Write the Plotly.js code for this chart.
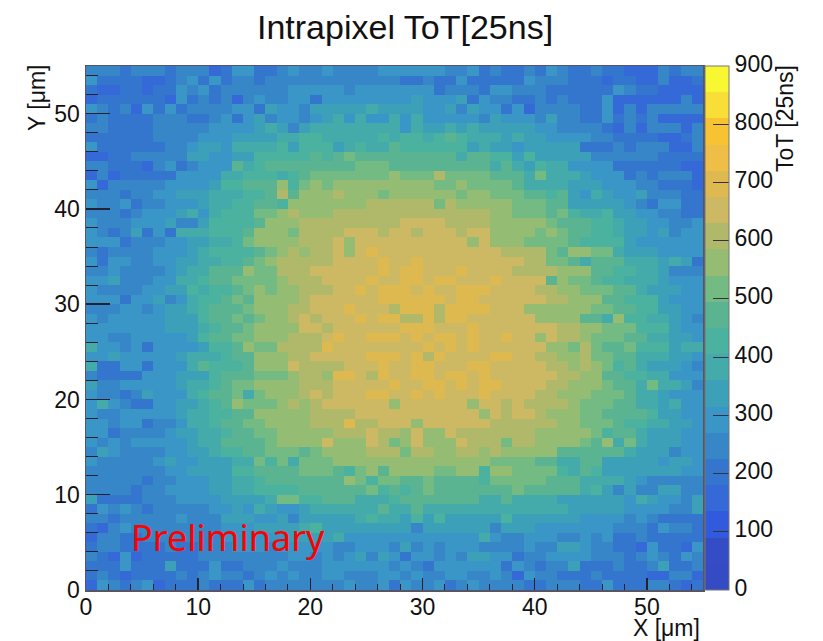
<!DOCTYPE html>
<html><head><meta charset="utf-8">
<script src="https://cdn.plot.ly/plotly-3.0.1.min.js"></script>
<style>html,body{margin:0;padding:0;background:#fff}#c{width:823px;height:641px}</style>
</head><body><div id="c"></div>
<script>
const chartTitle = 'Intrapixel ToT[25ns]';
const xTitle = 'X [μm]', yTitle = 'Y [μm]', zTitle = 'ToT [25ns]', note = 'Preliminary';
const bandColors = ['#344bc3','#344cc6','#325adc','#3469d7','#3476cd','#3787c8','#3a96c6','#3ca0b9','#44aaaa','#4bb2a0','#5ab491','#73bb82','#94bc73','#afb969','#cdb964','#deb950','#eebe46','#f7c332','#f8de37','#f8f832'];
// ToT per 1 µm bin, top row (Y 54–55) first, left to right X 0–55
const tot = [
[250,250,250,200,250,250,250,200,250,250,250,160,200,290,290,200,200,250,290,250,250,290,250,250,250,250,290,290,290,290,290,290,250,250,290,200,250,200,200,250,200,290,250,200,200,250,200,200,160,160,160,250,200,250,250],
[290,200,200,200,200,160,160,200,250,290,200,290,200,250,250,200,250,250,250,250,250,250,250,250,250,250,250,250,200,200,250,200,200,290,200,200,200,200,200,290,250,250,250,200,200,200,160,200,200,160,160,250,160,160,200],
[200,160,160,200,200,160,200,200,290,250,290,200,250,250,250,250,250,250,290,290,290,290,290,250,290,290,290,290,290,290,290,200,250,250,250,200,290,290,250,250,250,200,200,200,200,200,200,290,250,200,200,160,160,160,160],
[160,200,200,200,200,200,200,160,290,200,250,200,250,160,250,290,250,250,290,290,200,290,290,290,290,290,290,290,290,340,290,290,290,340,200,290,250,250,200,200,250,200,250,200,200,200,290,160,160,160,160,160,160,250,160],
[290,250,200,250,160,290,200,290,200,250,250,250,250,290,290,200,340,290,290,250,340,340,340,340,340,380,340,340,340,340,290,290,340,250,340,290,290,200,290,160,250,250,250,250,200,200,290,160,250,160,250,250,250,250,250],
[200,250,200,200,200,200,250,250,250,200,200,250,290,200,290,340,250,290,290,250,290,340,380,290,380,290,290,380,290,380,290,290,290,290,290,250,340,290,290,290,250,340,250,250,200,200,290,200,250,200,250,160,160,160,160],
[250,250,200,200,200,200,250,250,250,250,250,290,290,290,290,340,380,340,250,340,380,380,380,380,380,380,380,380,290,380,340,340,380,340,380,340,340,340,340,340,290,290,250,250,250,250,200,160,250,160,250,250,250,160,250],
[200,200,200,200,200,200,250,250,250,250,290,290,290,340,340,340,340,380,380,430,430,380,380,380,380,380,430,380,430,430,380,430,470,430,380,380,380,340,380,340,340,290,290,290,290,250,250,200,200,200,200,160,160,200,250],
[290,200,200,200,200,200,200,250,250,290,340,340,290,380,380,380,380,430,340,430,430,430,340,380,430,380,380,470,430,430,430,430,430,430,340,380,340,340,290,340,340,340,340,340,200,200,200,250,200,250,250,250,160,160,250],
[160,160,200,200,250,250,250,250,250,340,340,290,290,340,340,430,430,430,430,430,470,430,470,520,470,470,470,470,470,470,470,470,470,380,470,470,430,430,340,430,340,340,340,340,340,250,250,250,250,250,250,200,200,200,200],
[250,250,200,200,200,160,250,290,200,250,290,290,290,470,380,430,470,470,470,470,470,470,470,470,520,520,520,470,470,470,470,470,470,470,470,470,380,470,380,340,430,380,380,290,290,290,290,200,200,200,200,200,200,160,160],
[160,250,160,200,200,200,200,200,290,290,290,290,380,380,430,430,430,380,430,470,520,520,520,520,520,520,520,560,520,520,520,610,520,520,520,520,470,470,470,380,520,380,380,380,340,290,290,290,200,250,200,250,250,250,160],
[290,160,250,250,250,250,250,290,290,290,290,340,430,430,470,470,470,560,430,520,560,520,560,560,560,560,560,560,560,560,560,520,520,560,520,520,520,520,470,380,380,380,380,340,340,340,290,290,290,250,250,200,200,200,160],
[250,250,250,200,250,250,290,290,340,340,340,380,380,380,430,430,470,610,470,560,560,560,610,560,560,560,520,560,560,560,560,560,560,520,560,560,520,520,520,470,470,430,470,340,290,380,340,290,290,340,250,250,250,200,200],
[290,250,250,290,200,250,250,290,290,290,340,380,380,430,430,470,470,430,560,560,560,560,560,560,560,610,610,610,610,610,610,520,610,560,560,560,560,560,520,520,520,470,470,340,340,340,340,340,290,250,200,290,290,200,200],
[250,250,250,200,250,290,290,290,340,380,290,380,430,430,430,520,520,560,610,560,560,560,610,610,610,610,610,610,610,610,610,610,610,610,610,610,560,560,520,520,520,470,520,430,380,380,430,340,340,290,290,250,250,200,200],
[290,250,250,250,290,290,290,340,250,250,340,430,430,430,430,470,560,560,560,610,610,610,610,610,610,610,610,610,650,650,650,650,610,610,610,610,560,560,560,560,560,520,470,470,470,430,430,380,340,340,290,290,250,250,290],
[290,250,200,250,340,200,290,200,380,380,380,430,430,430,470,560,560,560,520,610,610,610,610,650,650,650,610,650,650,610,650,650,650,610,650,650,560,560,560,560,520,560,520,470,470,430,430,380,340,340,290,340,250,290,290],
[290,290,290,200,250,250,250,290,290,340,340,380,380,430,520,560,560,560,560,610,610,610,650,560,650,650,650,650,650,650,650,650,650,650,560,650,560,560,560,520,520,520,520,470,430,430,430,430,340,290,290,290,290,290,290],
[250,200,250,250,250,250,290,290,290,340,380,430,430,430,430,470,520,560,610,560,610,610,650,560,650,700,650,650,650,650,650,650,650,650,650,650,650,610,610,610,610,520,470,560,560,520,520,380,340,340,340,290,290,290,290],
[290,200,290,290,250,250,290,290,340,340,380,380,430,430,470,520,560,610,610,610,610,610,650,650,650,650,700,650,650,700,650,650,650,650,650,650,650,650,650,610,610,520,520,470,380,470,470,470,380,380,380,340,380,340,200],
[250,250,290,250,250,250,250,290,340,380,380,470,470,470,560,520,520,610,610,610,650,650,650,650,650,650,700,650,700,700,650,650,650,700,650,650,650,650,610,610,610,610,560,560,560,470,470,430,430,380,380,340,250,250,250],
[290,290,340,250,250,250,290,290,380,380,430,470,470,520,520,520,520,560,610,610,610,650,650,650,650,700,650,650,700,700,650,700,700,650,650,650,700,650,650,650,650,470,560,520,520,470,430,430,380,380,380,340,290,290,290],
[290,250,250,250,250,290,290,340,340,430,380,430,430,470,520,560,520,560,560,610,610,610,650,650,700,650,700,700,700,650,700,650,650,700,700,700,650,650,650,650,610,610,560,560,520,520,520,470,470,380,340,340,340,290,290],
[290,290,290,200,290,290,340,250,290,380,430,430,470,520,470,560,560,560,560,610,650,650,650,650,650,650,700,700,700,700,700,700,650,700,700,650,650,650,650,650,650,610,610,560,560,560,470,470,430,430,430,340,290,290,290],
[250,250,250,290,290,250,290,340,340,380,430,470,470,470,520,560,560,560,610,610,650,650,650,700,650,650,650,610,700,700,700,610,700,700,700,700,650,650,650,560,560,560,560,560,560,520,520,470,470,430,430,340,340,290,290],
[290,250,290,290,290,290,290,340,340,340,430,470,470,520,470,520,560,560,610,650,610,650,650,650,700,650,700,700,610,610,700,610,700,700,650,650,650,650,650,650,560,560,560,560,470,470,380,560,430,430,380,380,340,290,250],
[290,290,290,290,290,290,290,340,340,340,380,430,470,470,520,560,560,560,560,650,650,610,650,650,650,650,650,650,700,700,700,650,650,650,700,650,650,650,650,650,650,650,610,610,560,560,520,520,520,430,430,430,340,290,290],
[290,290,250,250,290,290,290,290,290,340,430,470,470,520,520,560,560,560,610,610,610,650,700,650,650,700,700,700,650,700,650,700,700,650,700,650,650,700,650,650,560,650,610,610,560,520,520,520,470,470,380,380,340,340,290],
[380,290,290,250,290,200,290,290,290,290,340,430,430,470,560,520,520,610,610,610,610,700,650,650,650,650,650,650,650,650,700,650,700,650,700,650,650,650,650,650,650,560,560,520,610,520,470,470,520,430,430,430,340,380,380],
[290,290,340,290,290,290,290,290,340,380,380,380,430,470,470,560,560,560,610,610,650,650,650,650,650,700,700,700,650,700,610,700,650,650,650,650,700,700,650,650,610,610,560,560,610,520,520,470,470,380,380,380,340,340,290],
[380,200,200,290,290,200,290,290,290,380,470,430,430,430,470,560,560,560,650,610,610,610,610,650,650,650,700,650,650,700,700,650,650,650,700,700,650,650,650,650,650,610,610,560,610,560,520,430,470,380,340,340,340,290,250],
[250,200,200,200,200,290,290,290,340,340,340,430,470,470,470,520,520,520,560,610,610,560,700,700,650,610,700,650,650,700,700,650,700,700,650,700,650,650,650,650,650,650,610,610,560,560,470,470,430,430,380,380,290,290,290],
[340,250,250,290,290,290,290,290,340,380,380,430,470,520,520,560,560,560,560,610,610,610,650,650,650,650,650,700,650,650,700,700,650,700,650,700,700,650,650,650,650,610,610,560,560,560,520,470,470,380,520,380,380,340,250],
[290,250,250,200,250,340,290,290,290,380,430,470,470,520,380,520,560,560,560,610,650,610,650,650,650,700,700,650,650,700,650,700,650,650,650,700,650,650,650,650,610,610,560,560,560,520,520,520,470,380,380,340,290,290,290],
[290,380,290,250,200,200,290,290,340,340,380,430,470,560,520,520,520,560,610,560,610,650,650,650,650,650,650,560,650,650,650,650,650,650,560,650,650,610,650,610,610,610,610,560,520,520,520,470,470,380,380,340,380,290,290],
[290,250,250,290,290,290,290,290,340,380,380,430,430,470,470,560,560,560,560,560,610,610,610,610,650,650,650,650,650,650,650,650,650,650,650,560,650,610,650,650,610,560,560,560,520,520,470,470,470,470,430,340,340,290,290],
[290,290,250,290,290,200,250,250,290,380,380,430,470,470,520,520,560,560,560,560,610,610,610,700,610,610,650,650,650,560,650,650,650,650,650,650,610,610,610,610,610,610,560,560,520,520,520,470,430,430,380,380,340,340,290],
[290,290,200,250,250,250,250,290,340,340,380,380,430,470,470,520,520,560,560,560,560,560,610,610,610,650,610,610,560,650,560,560,650,610,610,610,610,610,610,610,560,560,560,560,560,520,430,470,470,380,340,340,340,290,290],
[290,250,290,250,290,290,290,290,290,340,380,380,470,470,470,470,520,560,560,560,560,650,560,560,560,650,610,520,560,650,560,560,560,650,610,610,610,520,610,610,560,560,560,560,520,470,560,380,520,380,340,340,340,290,290],
[250,340,290,250,250,250,250,290,290,340,340,380,430,430,470,470,520,520,520,470,520,560,560,560,560,610,610,610,520,610,610,560,560,610,610,560,610,560,560,560,560,560,470,470,470,470,470,470,380,340,340,340,250,290,290],
[290,250,250,250,250,250,290,340,290,290,340,340,340,380,380,520,430,520,380,520,520,520,560,560,560,560,560,560,560,560,560,560,560,560,560,560,520,520,520,520,470,470,380,380,470,470,340,340,340,340,340,290,340,340,290],
[250,250,250,250,250,250,250,290,290,340,340,340,340,430,430,470,470,470,470,520,520,520,470,430,520,560,470,560,560,560,560,520,520,560,560,430,560,560,520,520,520,520,430,380,470,430,340,340,340,340,340,340,340,290,290],
[250,250,250,250,250,200,250,250,290,290,290,340,340,380,380,430,470,470,470,470,470,470,470,560,520,430,520,520,470,470,520,470,470,470,470,430,520,520,520,520,520,470,470,470,380,380,380,380,340,290,250,250,250,250,250],
[250,250,250,250,200,250,250,290,290,290,290,340,340,380,380,430,430,430,430,470,470,470,470,470,470,520,430,470,430,470,520,470,470,470,470,470,470,470,520,470,470,470,470,470,380,430,340,250,340,250,250,340,340,250,250],
[340,200,200,200,200,250,250,250,290,290,290,290,340,340,340,340,380,520,520,430,430,470,470,470,380,380,380,430,470,470,470,470,470,470,470,380,380,470,380,380,380,380,340,340,340,340,340,340,290,380,340,290,290,250,340],
[200,290,250,290,250,200,250,250,250,250,250,290,290,340,290,380,340,290,290,340,380,380,380,380,380,380,470,380,380,470,380,380,380,380,380,380,380,380,380,380,380,380,380,340,340,340,340,340,290,290,290,290,250,250,340],
[250,250,200,250,250,250,250,250,290,250,250,250,340,340,340,290,290,340,250,340,340,340,340,340,380,430,380,380,340,430,340,430,340,340,340,340,340,430,340,340,340,340,340,340,290,290,290,290,250,290,250,200,200,200,200],
[200,160,250,290,250,250,250,250,250,250,250,250,290,290,290,340,340,340,340,380,430,340,340,340,340,340,340,340,340,250,340,340,340,340,340,340,250,340,340,340,290,290,290,290,290,290,290,250,250,250,200,290,250,250,200],
[160,250,250,200,200,250,250,250,250,250,250,250,290,290,290,290,290,290,340,340,340,340,380,290,290,290,290,290,290,290,290,290,290,290,290,380,290,250,250,290,290,290,250,250,290,250,290,200,200,250,200,200,200,200,200],
[200,250,250,200,200,200,200,250,200,200,250,250,250,290,290,290,250,290,290,290,290,290,250,250,290,290,290,250,340,250,290,250,290,290,290,250,250,250,250,290,250,250,340,340,290,250,250,200,200,160,290,200,200,160,290],
[250,200,160,290,160,200,200,200,200,200,250,250,250,250,250,250,250,250,290,290,250,290,250,290,340,250,340,290,200,290,290,250,290,250,340,340,290,290,200,250,250,290,290,290,290,250,250,250,200,250,290,250,200,290,250],
[200,200,200,290,200,200,200,340,200,200,200,290,200,200,250,250,250,290,250,250,250,290,290,290,290,290,290,250,290,250,200,290,290,290,290,290,290,200,290,250,200,250,250,340,200,200,200,250,200,200,250,340,200,200,250],
[200,250,200,160,200,200,200,200,250,200,250,290,250,250,200,250,290,250,290,250,250,290,290,250,250,250,290,290,250,290,250,250,290,290,250,250,290,250,160,290,250,250,200,200,200,250,200,200,200,200,160,160,250,250,160],
[160,290,250,200,250,290,160,200,200,200,250,200,200,200,290,200,250,250,250,250,250,250,250,290,250,250,290,200,290,250,250,290,200,250,290,250,250,250,250,200,200,250,250,250,200,200,290,200,200,200,250,250,200,160,200]
];
const binCentersX = tot[0].map((_, i) => i + 0.5);
const binCentersY = tot.map((_, i) => 54.5 - i);
const scale = [];
bandColors.forEach((c, k) => { scale.push([k / 20, c]); scale.push([(k + 1) / 20, c]); });
const tickFont = {family: 'Liberation Sans, Arial, sans-serif', size: 23, color: '#111'};
const axisCommon = {range: [0, 55], dtick: 10, ticks: 'inside', tickcolor: '#223', tickwidth: 1.5,
  showline: true, linecolor: '#556', linewidth: 1.5, mirror: true, showgrid: false, zeroline: false,
  tickfont: tickFont, title: {text: ''}};
const L = 86, T = 66, W = 617, H = 524;
const px = v => (v - L) / W, py = v => (T + H - v) / H;
Plotly.newPlot('c', [{
  type: 'heatmap', x: binCentersX, y: binCentersY, z: tot, zmin: 0, zmax: 900, zsmooth: false,
  colorscale: scale,
  colorbar: {thickness: 24, thicknessmode: 'pixels', len: 1, lenmode: 'fraction', y: 0, yanchor: 'bottom',
    x: 1.0035, xanchor: 'left', xpad: 0, ypad: 0, dtick: 100, tick0: 0, ticks: 'inside', ticklen: 16, tickwidth: 1, tickcolor: '#334',
    outlinecolor: '#777', outlinewidth: 1, tickfont: tickFont}
}], {
  width: 823, height: 641, paper_bgcolor: '#fff', plot_bgcolor: '#fff',
  margin: {l: L, r: 823 - L - W, t: T, b: 641 - T - H},
  showlegend: false,
  xaxis: Object.assign({}, axisCommon, {ticklen: 12, ticklabelstandoff: -4, minor: {dtick: 2, ticks: 'inside', ticklen: 6, tickcolor: '#223', tickwidth: 1}}),
  yaxis: Object.assign({}, axisCommon, {ticklen: 24, minor: {dtick: 2, ticks: 'inside', ticklen: 12, tickcolor: '#223', tickwidth: 1}}),
  annotations: [
    {xref: 'paper', yref: 'paper', x: px(405), y: py(27), text: chartTitle, showarrow: false, xanchor: 'center', yanchor: 'middle', font: {family: 'Liberation Sans', size: 34, color: '#111'}},
    {xref: 'paper', yref: 'paper', x: px(702), y: py(628), text: xTitle, showarrow: false, xanchor: 'right', yanchor: 'middle', font: {family: 'Liberation Sans', size: 23, color: '#111'}},
    {xref: 'paper', yref: 'paper', x: px(37), y: py(98), text: yTitle, showarrow: false, textangle: -90, xanchor: 'center', yanchor: 'middle', font: {family: 'Liberation Sans', size: 23, color: '#111'}},
    {xref: 'paper', yref: 'paper', x: px(785), y: py(119), text: zTitle, showarrow: false, textangle: -90, xanchor: 'center', yanchor: 'middle', font: {family: 'Liberation Sans', size: 23, color: '#111'}},
    {xref: 'paper', yref: 'paper', x: px(228), y: py(537), text: note, showarrow: false, xanchor: 'center', yanchor: 'middle', font: {family: 'Noto Sans', size: 36, color: '#f00'}}
  ]
}, {displayModeBar: false, staticPlot: true}).then(() => {
  document.querySelectorAll('.colorbar text').forEach(t => t.setAttribute('y', parseFloat(t.getAttribute('y')) - 2.5));
});
</script></body></html>
